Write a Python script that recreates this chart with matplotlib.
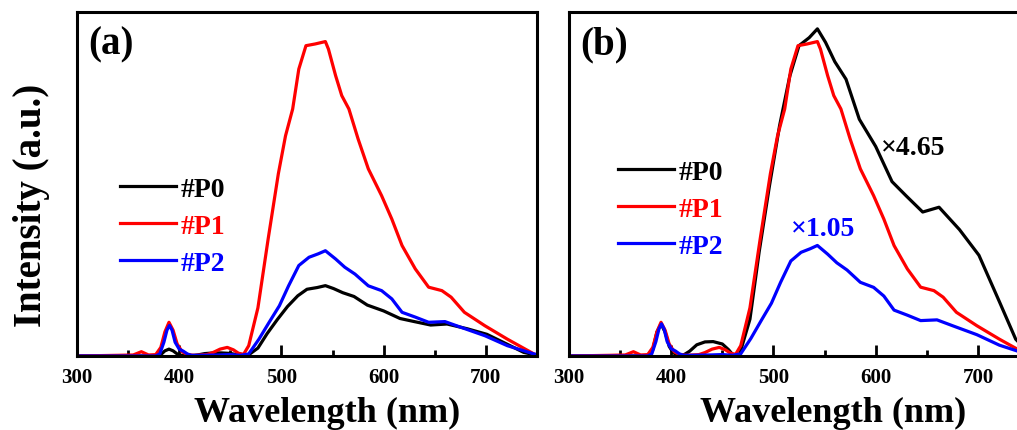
import numpy as np
import matplotlib
matplotlib.use('Agg')
import matplotlib.pyplot as plt

plt.rcParams['font.family'] = ['Liberation Serif', 'DejaVu Serif']
plt.rcParams['font.weight'] = 'bold'

# wavelength (nm) / intensity (a.u.)
wl_p0 = [300, 350, 378, 382, 386, 390, 394, 398, 402, 408, 413, 418, 425, 433, 441, 450, 456,
         460, 464, 467, 477, 486, 496, 506, 516, 525, 535, 543, 551, 560, 571, 584, 600, 616,
         630, 646, 662, 682, 701, 721, 737, 750]
p0 = [0, 0, 0, 0.004, 0.015, 0.02, 0.015, 0.006, 0.002, 0, 0.001, 0.003, 0.007, 0.0088,
      0.009, 0.0075, 0.004, 0.001, 0.0005, 0.0013, 0.023, 0.065, 0.106, 0.144, 0.175, 0.194,
      0.199, 0.2045, 0.196, 0.184, 0.173, 0.148, 0.131, 0.109, 0.1, 0.09, 0.093, 0.079, 0.063,
      0.034, 0.0105, 0.002]

wl_p1 = [300, 340, 355, 363, 370, 377, 382, 386, 390, 394, 398, 403, 408, 415, 427, 433, 440,
         447, 453, 458, 463, 468, 477, 487, 497, 504, 511, 517, 524, 533, 543, 546, 553, 559,
         566, 575, 585, 598, 608, 618, 631, 644, 657, 666, 679, 699, 721, 747, 750]
p1 = [0, 0.002, 0.003, 0.0125, 0.003, 0.004, 0.025, 0.07, 0.098, 0.075, 0.035, 0.012, 0.004,
      0.002, 0.004, 0.01, 0.02, 0.025, 0.018, 0.008, 0.005, 0.03, 0.14, 0.34, 0.53, 0.64,
      0.718, 0.834, 0.902, 0.907, 0.914, 0.892, 0.815, 0.757, 0.718, 0.631, 0.544, 0.466,
      0.398, 0.321, 0.253, 0.2, 0.19, 0.171, 0.127, 0.088, 0.049, 0.006, 0.003]

wl_p2 = [300, 377, 381, 385, 388, 390.5, 393, 396, 400, 404, 408, 412, 420, 440, 450, 460,
         468, 478, 488, 498, 507, 517, 527, 536, 543, 553, 562, 572, 585, 598, 608, 618, 631,
         644, 660, 676, 699, 721, 747, 750]
p2 = [0, 0, 0.006, 0.04, 0.075, 0.089, 0.075, 0.04, 0.02, 0.014, 0.006, 0.002, 0.002, 0.003,
      0.004, 0.002, 0.006, 0.049, 0.098, 0.146, 0.204, 0.263, 0.287, 0.297, 0.306, 0.282,
      0.258, 0.238, 0.204, 0.19, 0.166, 0.127, 0.113, 0.098, 0.1, 0.083, 0.059, 0.03, 0.006,
      0.004]

labels = ['#P0', '#P1', '#P2']
colors = ['black', 'red', 'blue']
scale_b = [4.65, 1.0, 1.05]

fig = plt.figure(figsize=(10.17, 4.31), dpi=100)
ax1 = fig.add_axes([0.0757, 0.1717, 0.4523, 0.7982])
ax2 = fig.add_axes([0.5595, 0.1717, 0.4523, 0.7982])

series = [(wl_p0, p0), (wl_p1, p1), (wl_p2, p2)]

for ax, scales, tag, leg_xy in [(ax1, [1, 1, 1], '(a)', (0.0935, 0.522)),
                                (ax2, scale_b, '(b)', (0.1065, 0.572))]:
    for (w, y), c, lab, s in zip(series, colors, labels, scales):
        ax.plot(w, np.array(y) * s, color=c, lw=2.3, label=lab)
    ax.set_xlim(300, 750)
    ax.set_ylim(0, 1.0)
    ax.set_xticks([300, 400, 500, 600, 700])
    ax.set_xticks([350, 450, 550, 650], minor=True)
    ax.set_yticks([])
    ax.tick_params(axis='x', which='major', direction='in', length=8, width=2, labelsize=15, pad=8)
    ax.tick_params(axis='x', which='minor', direction='in', length=4, width=2)
    for sp in ax.spines.values():
        sp.set_linewidth(2.2)
    ax.set_xlabel('Wavelength (nm)', fontsize=26, fontweight='bold')
    ax.text(0.024, 0.907, tag, transform=ax.transAxes, fontsize=28, fontweight='bold',
            va='center', ha='left')
    leg = ax.legend(loc='upper left', bbox_to_anchor=leg_xy, frameon=False,
                    handlelength=2.0, handletextpad=0.2, labelspacing=0.42,
                    borderpad=0, borderaxespad=0, prop={'weight': 'bold', 'size': 20})
    for t, c in zip(leg.get_texts(), colors):
        t.set_color(c)

ax1.xaxis.set_label_coords(0.544, -0.116)
ax2.xaxis.set_label_coords(0.574, -0.116)
ax1.set_ylabel('Intensity (a.u.)', fontsize=28, fontweight='bold')
ax1.yaxis.set_label_coords(-0.058, 0.44)

ax2.text(605, 0.605, '\u00d74.65', color='black', fontsize=20, fontweight='bold', va='center')
ax2.text(517, 0.37, '\u00d71.05', color='blue', fontsize=20, fontweight='bold', va='center')

fig.savefig('out.png', dpi=100)
